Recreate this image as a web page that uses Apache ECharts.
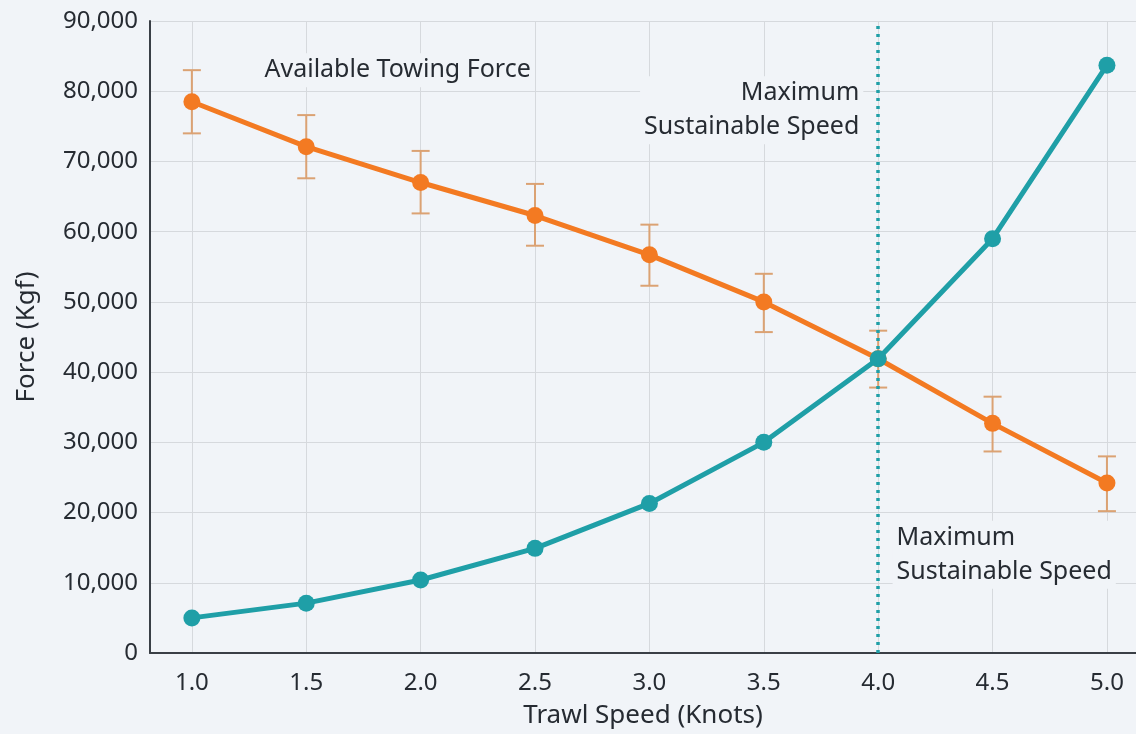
<!DOCTYPE html>
<html>
<head>
<meta charset="utf-8">
<script src="https://cdn.jsdelivr.net/npm/echarts@6/dist/echarts.min.js"></script>
<style>
html,body{margin:0;padding:0;background:#f1f4f8;}
#main{width:1136px;height:734px;}
</style>
</head>
<body>
<div id="main"></div>
<script>
const speeds = [1.0, 1.5, 2.0, 2.5, 3.0, 3.5, 4.0, 4.5, 5.0];
const towingForce = [78500, 72100, 67000, 62300, 56700, 50000, 41900, 32700, 24200];
const towingErrLow = [74000, 67600, 62600, 58000, 52300, 45700, 37800, 28700, 20200];
const towingErrHigh = [83000, 76600, 71500, 66800, 61000, 54000, 45900, 36500, 28000];
const dragForce = [5000, 7100, 10400, 14900, 21300, 30000, 41900, 59000, 83700];
const xTicks = [1.0, 1.5, 2.0, 2.5, 3.0, 3.5, 4.0, 4.5, 5.0];
const maxSpeed = 4.0;

const ORANGE = '#f37a22';
const TEAL = '#1f9fa7';
const ERR = '#dba273';
const BG = '#f1f4f8';
const FONT = 'Noto Sans';
const TXT = '#262b32';

const chart = echarts.init(document.getElementById('main'));
const lblStyle = {fontFamily: FONT, fontSize: 25, color: TXT, backgroundColor: BG, padding: [0, 4], lineHeight: 34};

chart.setOption({
  backgroundColor: BG,
  animation: false,
  textStyle: {fontFamily: FONT},
  grid: {left: 150, right: 0, top: 21, bottom: 78, containLabel: false},
  xAxis: {
    type: 'value', min: 0.817, max: 5.127,
    name: 'Trawl Speed (Knots)', nameLocation: 'middle', nameGap: 50,
    nameTextStyle: {fontSize: 26, color: TXT, fontFamily: FONT},
    axisLine: {lineStyle: {color: '#3a3f46', width: 2}},
    axisTick: {show: false, customValues: xTicks},
    axisLabel: {customValues: xTicks, fontSize: 24, color: TXT, margin: 18, fontFamily: FONT,
      formatter: v => v.toFixed(1)},
    splitLine: {show: true, lineStyle: {color: '#d6d9dd', width: 1}}
  },
  yAxis: {
    type: 'value', min: 0, max: 90000, interval: 10000,
    name: 'Force (Kgf)', nameLocation: 'middle', nameGap: 110, nameRotate: 90,
    nameTextStyle: {fontSize: 26, color: TXT, fontFamily: FONT},
    axisLine: {show: true, lineStyle: {color: '#3a3f46', width: 2}},
    axisTick: {show: false},
    axisLabel: {fontSize: 24, color: TXT, margin: 12, fontFamily: FONT,
      formatter: v => v.toLocaleString('en-US')},
    splitLine: {show: true, lineStyle: {color: '#d6d9dd', width: 1}}
  },
  series: [
    {
      type: 'custom', name: 'err', z: 2,
      data: speeds.map((s, i) => [s, towingErrLow[i], towingErrHigh[i]]),
      renderItem: function (params, api) {
        const lo = api.coord([api.value(0), api.value(1)]);
        const hi = api.coord([api.value(0), api.value(2)]);
        const hw = 9;
        const st = {stroke: ERR, lineWidth: 2, fill: 'none'};
        return {type: 'group', children: [
          {type: 'line', shape: {x1: lo[0], y1: lo[1], x2: hi[0], y2: hi[1]}, style: st},
          {type: 'line', shape: {x1: lo[0] - hw, y1: lo[1], x2: lo[0] + hw, y2: lo[1]}, style: st},
          {type: 'line', shape: {x1: hi[0] - hw, y1: hi[1], x2: hi[0] + hw, y2: hi[1]}, style: st}
        ]};
      }
    },
    {
      type: 'line', name: 'Available Towing Force', z: 3,
      data: speeds.map((s, i) => [s, towingForce[i]]),
      symbol: 'circle', symbolSize: 17,
      lineStyle: {color: ORANGE, width: 5},
      itemStyle: {color: ORANGE},
      markPoint: {
        symbolSize: 0,
        data: [{coord: [1.3, 83000], value: 'Available Towing Force'}],
        label: Object.assign({show: true, position: 'inside', align: 'left', verticalAlign: 'middle',
          formatter: 'Available Towing Force'}, lblStyle)
      }
    },
    {
      type: 'line', name: 'Drag', z: 4,
      data: speeds.map((s, i) => [s, dragForce[i]]),
      symbol: 'circle', symbolSize: 17,
      lineStyle: {color: TEAL, width: 5},
      itemStyle: {color: TEAL},
      markLine: {
        silent: true, symbol: 'none',
        lineStyle: {color: TEAL, type: [3, 5], width: 3.5, opacity: 1},
        label: {show: false},
        data: [{xAxis: maxSpeed}]
      },
      markPoint: {
        symbolSize: 0,
        data: [
          {coord: [3.935, 77300], label: Object.assign({show: true, position: 'inside', verticalAlign: 'middle',
            formatter: 'Maximum\nSustainable Speed'}, lblStyle, {align: 'right'})},
          {coord: [4.063, 14000], label: Object.assign({show: true, position: 'inside', align: 'left', verticalAlign: 'middle',
            formatter: 'Maximum\nSustainable Speed'}, lblStyle)}
        ]
      }
    }
  ]
});
</script>
</body>
</html>
